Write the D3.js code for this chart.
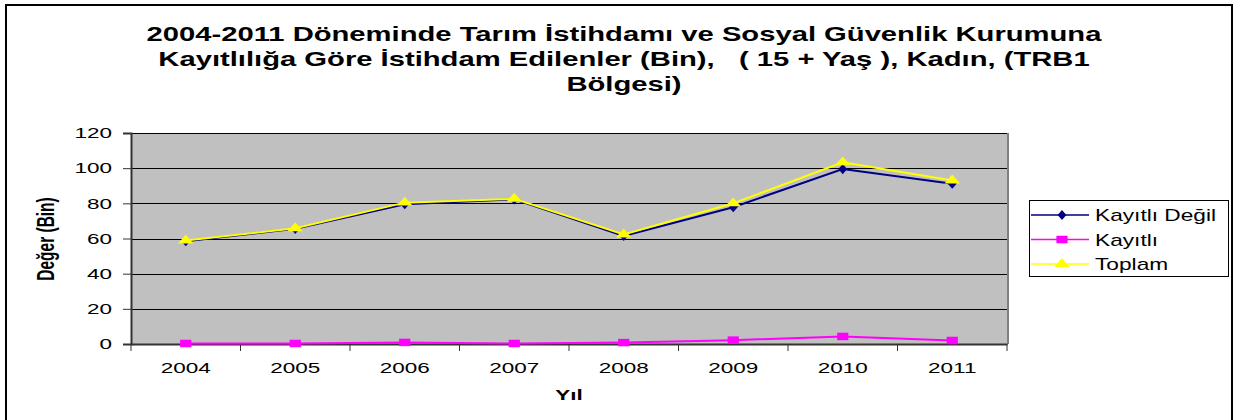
<!DOCTYPE html>
<html>
<head>
<meta charset="utf-8">
<script src="https://cdn.jsdelivr.net/npm/d3@7"></script>
<style>
  body { margin: 0; background: #fff; }
  text { font-family: "Liberation Sans", Arial, sans-serif; fill: #000; white-space: pre; }
</style>
</head>
<body>
<svg id="chart" width="1238" height="420"></svg>
<script>
// data
var years = ["2004", "2005", "2006", "2007", "2008", "2009", "2010", "2011"];
var kayitliDegil = [58.5, 65.5, 79.5, 82.3, 61.5, 77.8, 99.5, 91.2];
var kayitli = [0.3, 0.3, 0.9, 0.3, 0.8, 2.2, 4.3, 2.0];
var toplam = [58.8, 65.8, 80.4, 82.6, 62.3, 80.0, 103.3, 93.0];
var yTicks = [0, 20, 40, 60, 80, 100, 120];
var titleLines = [
  "2004-2011 Döneminde Tarım İstihdamı ve Sosyal Güvenlik Kurumuna",
  "Kayıtlılığa Göre İstihdam Edilenler (Bin),   ( 15 + Yaş ), Kadın, (TRB1",
  "Bölgesi)"
];

// the original picture is stretched sideways, so text and markers get a wider x scale
var sx = 1.5;

var series = [
  { name: "Kayıtlı Değil", values: kayitliDegil, color: "#000080", shape: d3.symbolDiamond, size: 30 },
  { name: "Kayıtlı", values: kayitli, color: "#ff00ff", shape: d3.symbolSquare, size: 56 },
  { name: "Toplam", values: toplam, color: "#ffff00", shape: d3.symbolTriangle, size: 46 }
];

var svg = d3.select("#chart");

// outer frame
svg.append("rect")
  .attr("x", 6).attr("y", 5).attr("width", 1226).attr("height", 420)
  .attr("fill", "#fff").attr("stroke", "#000").attr("stroke-width", 2);

// title
svg.append("g").selectAll("text").data(titleLines).enter().append("text")
  .attr("transform", function(d, i) { return "translate(624," + (41 + i * 25) + ") scale(1.46,1)"; })
  .attr("text-anchor", "middle")
  .style("font-size", "20px").style("font-weight", "bold")
  .text(function(d) { return d; });

var plot = { left: 131, right: 1007, top: 133, bottom: 344 };

var x = d3.scaleBand().domain(years).range([plot.left, plot.right]);
var y = d3.scaleLinear().domain([0, 120]).range([plot.bottom, plot.top]);

svg.append("rect")
  .attr("x", plot.left).attr("y", plot.top)
  .attr("width", plot.right - plot.left).attr("height", plot.bottom - plot.top)
  .attr("fill", "#c0c0c0");

// gridlines
svg.append("g").selectAll("line").data(yTicks.slice(1)).enter().append("line")
  .attr("x1", plot.left).attr("x2", plot.right)
  .attr("y1", function(d) { return Math.round(y(d)) + 0.5; })
  .attr("y2", function(d) { return Math.round(y(d)) + 0.5; })
  .attr("stroke", "#000").attr("stroke-width", 1);

// plot border right side
svg.append("line")
  .attr("x1", plot.right + 1).attr("x2", plot.right + 1)
  .attr("y1", plot.top).attr("y2", plot.bottom)
  .attr("stroke", "#808080").attr("stroke-width", 2);

// y axis
var yAxis = svg.append("g")
  .attr("transform", "translate(" + plot.left + ",0)")
  .call(d3.axisLeft(y).tickValues(yTicks).tickSize(8));
yAxis.select(".domain").attr("stroke", "#333").attr("stroke-width", 2);
yAxis.selectAll(".tick line").attr("stroke", "#333");
yAxis.selectAll("text")
  .attr("x", -19 / sx)
  .attr("transform", "scale(" + sx + ",1)")
  .style("font-size", "15px").attr("fill", "#000");

// x axis, ticks on category boundaries
var xAxis = svg.append("g")
  .attr("transform", "translate(0," + plot.bottom + ")")
  .call(d3.axisBottom(x).tickSize(0));
xAxis.select(".domain").attr("stroke", "#333").attr("stroke-width", 2);
xAxis.selectAll(".tick text")
  .attr("y", 29).attr("dy", 0)
  .attr("transform", "scale(" + sx + ",1)")
  .style("font-size", "15px").attr("fill", "#000");
xAxis.selectAll(".bound").data(years.concat(["end"])).enter().append("line")
  .attr("x1", function(d, i) { return plot.left + i * x.bandwidth(); })
  .attr("x2", function(d, i) { return plot.left + i * x.bandwidth(); })
  .attr("y1", 0).attr("y2", 7)
  .attr("stroke", "#333");

// axis titles
svg.append("text")
  .attr("transform", "translate(54,239) scale(" + sx + ",1) rotate(-90)")
  .attr("text-anchor", "middle")
  .style("font-size", "15.5px").style("font-weight", "bold")
  .text("Değer (Bin)");

svg.append("text")
  .attr("transform", "translate(569,400) scale(" + sx + ",1)")
  .attr("text-anchor", "middle")
  .style("font-size", "15px").style("font-weight", "bold")
  .text("Yıl");

// lines and markers
var line = d3.line()
  .x(function(d, i) { return x(years[i]) + x.bandwidth() / 2; })
  .y(function(d) { return y(d); });

series.forEach(function(s) {
  var g = svg.append("g");
  g.append("path")
    .datum(s.values)
    .attr("d", line)
    .attr("fill", "none").attr("stroke", s.color).attr("stroke-width", 2);
  g.selectAll("path.m").data(s.values).enter().append("path")
    .attr("class", "m")
    .attr("transform", function(d, i) {
      return "translate(" + (x(years[i]) + x.bandwidth() / 2) + "," + y(d) + ") scale(" + sx + ",1)";
    })
    .attr("d", d3.symbol().type(s.shape).size(s.size))
    .attr("fill", s.color);
});

// legend
var legend = svg.append("g");
legend.append("rect")
  .attr("x", 1029.5).attr("y", 200.5).attr("width", 199).attr("height", 76)
  .attr("fill", "#fff").attr("stroke", "#000");
var rows = legend.selectAll("g").data(series).enter().append("g")
  .attr("transform", function(d, i) { return "translate(0," + (215 + i * 24.5) + ")"; });
rows.append("line")
  .attr("x1", 1031).attr("x2", 1089).attr("y1", 0).attr("y2", 0)
  .attr("stroke", function(d) { return d.color; }).attr("stroke-width", 1.5);
rows.append("path")
  .attr("transform", "translate(1062,0) scale(" + sx + ",1)")
  .attr("d", function(d) { return d3.symbol().type(d.shape).size(d.size)(); })
  .attr("fill", function(d) { return d.color; });
rows.append("text")
  .attr("transform", "translate(1095,6) scale(1.42,1)")
  .style("font-size", "16px")
  .text(function(d) { return d.name; });
</script>
</body>
</html>
